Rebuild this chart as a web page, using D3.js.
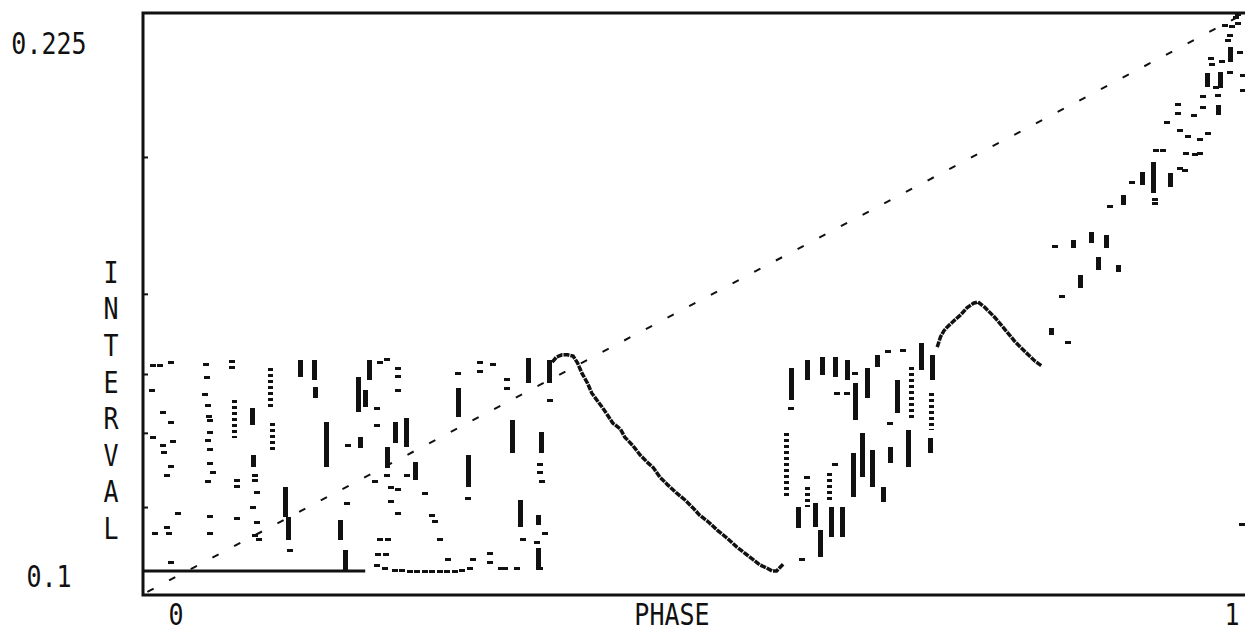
<!DOCTYPE html>
<html>
<head>
<meta charset="utf-8">
<script src="https://cdn.jsdelivr.net/npm/d3@7"></script>
<style>
  body { margin: 0; background: #fff; }
  svg { display: block; }
  .lbl { font-family: "DejaVu Sans Mono", monospace; font-size: 25px; fill: #111; }
</style>
</head>
<body>
<div id="chart"></div>
<script>
  var svgWidth = 1245;
  var svgHeight = 632;

  // frame of the plot area (right side is open, runs off the picture)
  var frame = { left: 143, top: 13, right: 1245, bottom: 595 };

  // axis ticks and labels
  var phaseTicks = [0, 1];
  var phaseTickLabels = ["0", "1"];
  var intervalTicks = [0.1, 0.225];
  var intervalTickLabels = ["0.1", "0.225"];
  var edgeTicks = [0.1971, 0.1650, 0.1462, 0.1324, 0.1150];
  var xTitle = "PHASE";
  var yTitle = "INTERVAL";

  // dashed identity-like diagonal
  var diagPhase = [0.004, 0.995];
  var diagInterval = [0.0951, 0.2299];

  // solid run along the minimum interval
  var floorRun = [[0, 0.1], [0.202, 0.1]];

  // first smooth branch (phase, interval)
  var curveA = [
    [0.372, 0.1490], [0.376, 0.1502], [0.381, 0.1507], [0.386, 0.1507], [0.391, 0.1504],
    [0.395, 0.1488], [0.399, 0.1464], [0.404, 0.1441], [0.408, 0.1417], [0.414, 0.1396],
    [0.418, 0.1382], [0.423, 0.1363], [0.427, 0.1347], [0.434, 0.1333], [0.438, 0.1314],
    [0.445, 0.1295], [0.452, 0.1272], [0.458, 0.1256], [0.464, 0.1242], [0.470, 0.1220],
    [0.477, 0.1202], [0.485, 0.1183], [0.493, 0.1166], [0.500, 0.1148], [0.506, 0.1131],
    [0.514, 0.1115], [0.522, 0.1096], [0.531, 0.1077], [0.540, 0.1056], [0.547, 0.1042],
    [0.555, 0.1026], [0.561, 0.1014], [0.567, 0.1007], [0.572, 0.1000], [0.576, 0.1000],
    [0.582, 0.1016]
  ];

  // second smooth branch
  var curveB = [
    [0.722, 0.1525], [0.725, 0.1549], [0.728, 0.1563], [0.731, 0.1572], [0.736, 0.1584],
    [0.743, 0.1600], [0.749, 0.1617], [0.755, 0.1628], [0.759, 0.1631], [0.765, 0.1619],
    [0.775, 0.1593], [0.784, 0.1565], [0.793, 0.1537], [0.802, 0.1514], [0.811, 0.1492],
    [0.817, 0.1481]
  ];

  // solid vertical runs: [phase, upper interval, lower interval]
  var streaks = [
    [0.143, 0.1495, 0.1455], [0.155, 0.1495, 0.1448], [0.156, 0.1431, 0.1406],
    [0.099, 0.1382, 0.1342], [0.100, 0.1272, 0.1244], [0.129, 0.1197, 0.1127],
    [0.132, 0.1127, 0.1073], [0.166, 0.1349, 0.1244], [0.179, 0.1120, 0.1073],
    [0.184, 0.1049, 0.1002], [0.205, 0.1495, 0.1448], [0.195, 0.1455, 0.1373],
    [0.202, 0.1424, 0.1385], [0.229, 0.1349, 0.1300], [0.239, 0.1359, 0.1291],
    [0.197, 0.1314, 0.1288], [0.222, 0.1291, 0.1242], [0.247, 0.1256, 0.1213],
    [0.286, 0.1429, 0.1361], [0.295, 0.1272, 0.1197], [0.335, 0.1354, 0.1277],
    [0.343, 0.1166, 0.1103], [0.359, 0.1054, 0.1002], [0.350, 0.1499, 0.1441],
    [0.369, 0.1495, 0.1441], [0.362, 0.1326, 0.1277], [0.359, 0.1131, 0.1108],
    [0.589, 0.1476, 0.1401], [0.595, 0.1150, 0.1101], [0.604, 0.1495, 0.1448],
    [0.611, 0.1159, 0.1103], [0.615, 0.1096, 0.1033], [0.617, 0.1502, 0.1460],
    [0.625, 0.1150, 0.1080], [0.629, 0.1502, 0.1455], [0.635, 0.1150, 0.1080],
    [0.640, 0.1495, 0.1448], [0.647, 0.1441, 0.1354], [0.645, 0.1277, 0.1174],
    [0.654, 0.1324, 0.1220], [0.658, 0.1476, 0.1406], [0.663, 0.1284, 0.1197],
    [0.667, 0.1507, 0.1478], [0.673, 0.1197, 0.1162], [0.679, 0.1291, 0.1253],
    [0.685, 0.1448, 0.1371], [0.695, 0.1331, 0.1244], [0.707, 0.1535, 0.1471],
    [0.715, 0.1312, 0.1277], [0.717, 0.1507, 0.1448],
    [0.825, 0.1570, 0.1553], [0.852, 0.1694, 0.1664], [0.868, 0.1736, 0.1706],
    [0.886, 0.1718, 0.1701], [0.845, 0.1776, 0.1757], [0.862, 0.1795, 0.1769],
    [0.875, 0.1788, 0.1757], [0.891, 0.1882, 0.1858], [0.908, 0.1936, 0.1905],
    [0.918, 0.1959, 0.1886], [0.934, 0.1933, 0.1900], [0.977, 0.2093, 0.2069],
    [0.967, 0.2168, 0.2135], [0.979, 0.2170, 0.2133], [0.988, 0.2229, 0.2194]
  ];

  // broken vertical runs (stacked dots)
  var dashColumns = [
    [0.116, 0.1476, 0.1378], [0.083, 0.1401, 0.1312], [0.118, 0.1347, 0.1284],
    [0.585, 0.1324, 0.1174], [0.604, 0.1197, 0.1150], [0.624, 0.1230, 0.1166],
    [0.699, 0.1478, 0.1354], [0.717, 0.1417, 0.1331]
  ];

  // single points
  var dots = [
    [0.009, 0.1481], [0.015, 0.1483], [0.025, 0.1490], [0.057, 0.1485], [0.081, 0.1492],
    [0.081, 0.1478], [0.008, 0.1424], [0.018, 0.1371], [0.025, 0.1349], [0.058, 0.1453],
    [0.056, 0.1413], [0.059, 0.1389], [0.060, 0.1363], [0.061, 0.1354], [0.061, 0.1324],
    [0.059, 0.1307], [0.061, 0.1284], [0.061, 0.1253], [0.064, 0.1232], [0.059, 0.1209],
    [0.009, 0.1314], [0.018, 0.1295], [0.019, 0.1279], [0.027, 0.1303], [0.025, 0.1244],
    [0.022, 0.1225], [0.032, 0.1136], [0.011, 0.1089], [0.022, 0.1101], [0.024, 0.1089],
    [0.025, 0.1019], [0.061, 0.1127], [0.061, 0.1089], [0.085, 0.1124], [0.085, 0.1213],
    [0.085, 0.1197], [0.102, 0.1225], [0.102, 0.1213], [0.104, 0.1185], [0.100, 0.1148],
    [0.104, 0.1113], [0.102, 0.1084], [0.105, 0.1073], [0.134, 0.1049], [0.186, 0.1295],
    [0.215, 0.1490], [0.222, 0.1495], [0.232, 0.1476], [0.232, 0.1455], [0.232, 0.1424],
    [0.213, 0.1382], [0.213, 0.1342], [0.222, 0.1225], [0.240, 0.1225], [0.211, 0.1209],
    [0.225, 0.1195], [0.232, 0.1192], [0.256, 0.1181], [0.225, 0.1162], [0.232, 0.1136],
    [0.263, 0.1131], [0.265, 0.1115], [0.270, 0.1073], [0.277, 0.1026], [0.185, 0.1159],
    [0.215, 0.1073], [0.223, 0.1073], [0.214, 0.1038], [0.221, 0.1038], [0.213, 0.1014],
    [0.300, 0.1026], [0.315, 0.1042], [0.315, 0.1019], [0.286, 0.1464], [0.306, 0.1488],
    [0.306, 0.1467], [0.318, 0.1485], [0.331, 0.1448], [0.331, 0.1429], [0.295, 0.1171],
    [0.345, 0.1073], [0.365, 0.1089], [0.358, 0.1068], [0.370, 0.1401], [0.361, 0.1249],
    [0.361, 0.1230], [0.363, 0.1209],
    [0.220, 0.1005], [0.229, 0.1002], [0.235, 0.1002], [0.243, 0.0998], [0.249, 0.0998],
    [0.256, 0.0998], [0.263, 0.0998], [0.270, 0.0998], [0.276, 0.1000], [0.284, 0.1000],
    [0.290, 0.1002], [0.297, 0.1007], [0.325, 0.1005], [0.329, 0.1005], [0.340, 0.1005],
    [0.361, 0.1007],
    [0.589, 0.1382], [0.599, 0.1026], [0.604, 0.1220], [0.629, 0.1249], [0.631, 0.1417],
    [0.640, 0.1417], [0.647, 0.1464], [0.677, 0.1514], [0.679, 0.1347], [0.691, 0.1518],
    [0.841, 0.1537], [0.835, 0.1643], [0.829, 0.1760], [0.879, 0.1854], [0.899, 0.1912],
    [0.920, 0.1872], [0.920, 0.1861], [0.921, 0.1987], [0.927, 0.1987], [0.943, 0.1945],
    [0.947, 0.1940], [0.948, 0.1980], [0.956, 0.1976], [0.961, 0.1980], [0.943, 0.2034],
    [0.950, 0.2018], [0.961, 0.2011], [0.968, 0.2027], [0.931, 0.2051], [0.941, 0.2093],
    [0.941, 0.2074], [0.955, 0.2069], [0.964, 0.2086], [0.975, 0.2133], [0.964, 0.2112],
    [0.977, 0.2116], [0.971, 0.2203], [0.972, 0.2189], [0.981, 0.2194], [0.988, 0.2168],
    [0.997, 0.2215], [1.000, 0.2163], [1.000, 0.2128], [0.988, 0.2257], [0.986, 0.2245],
    [0.984, 0.2280], [0.990, 0.2278], [0.995, 0.2283], [0.994, 0.2297], [0.995, 0.2304],
    [0.999, 0.1108]
  ];

  var svg = d3.select("#chart")
    .append("svg")
    .attr("width", svgWidth)
    .attr("height", svgHeight);

  // Create scaling functions
  var xScale = d3.scaleLinear()
    .domain([0, 1])
    .range([143, 1243]);

  var yScale = d3.scaleLinear()
    .domain([0.1, 0.225])
    .range([571, 38]);

  var ink = "#111";

  // frame, open on the right
  svg.append("path")
    .attr("d", `M${frame.right},${frame.top}H${frame.left}V${frame.bottom}H${frame.right}`)
    .attr("fill", "none")
    .attr("stroke", ink)
    .attr("stroke-width", 3);

  // small inward ticks on the left edge
  var edgeAxis = svg.append("g")
    .attr("transform", `translate(${frame.left}, 0)`)
    .call(d3.axisRight(yScale).tickValues(edgeTicks).tickSize(5).tickFormat(""));
  edgeAxis.select(".domain").remove();
  edgeAxis.selectAll("line").attr("stroke", ink).attr("stroke-width", 2);

  var line = d3.line()
    .x(d => xScale(d[0]))
    .y(d => yScale(d[1]));

  // dashed diagonal
  svg.append("path")
    .datum(d3.zip(diagPhase, diagInterval))
    .attr("d", line)
    .attr("fill", "none")
    .attr("stroke", ink)
    .attr("stroke-width", 2)
    .attr("stroke-dasharray", "7,17.5");

  // floor run
  svg.append("path")
    .datum(floorRun)
    .attr("d", line)
    .attr("fill", "none")
    .attr("stroke", ink)
    .attr("stroke-width", 3);

  // smooth branches
  [curveA, curveB].forEach(function(c) {
    svg.append("path")
      .datum(c)
      .attr("d", line)
      .attr("fill", "none")
      .attr("stroke", ink)
      .attr("stroke-width", 3.5)
      .attr("stroke-dasharray", "6,1");
  });

  var marks = svg.append("g").attr("shape-rendering", "crispEdges");

  marks.selectAll("rect.streak")
    .data(streaks)
    .enter()
    .append("rect")
    .attr("class", "streak")
    .attr("x", d => xScale(d[0]) - 2)
    .attr("y", d => yScale(d[1]))
    .attr("width", 5)
    .attr("height", d => yScale(d[2]) - yScale(d[1]))
    .attr("fill", ink);

  marks.selectAll("line.dashcol")
    .data(dashColumns)
    .enter()
    .append("line")
    .attr("class", "dashcol")
    .attr("x1", d => xScale(d[0]))
    .attr("x2", d => xScale(d[0]))
    .attr("y1", d => yScale(d[1]))
    .attr("y2", d => yScale(d[2]))
    .attr("stroke", ink)
    .attr("stroke-width", 5)
    .attr("stroke-dasharray", "3,3");

  marks.selectAll("rect.dot")
    .data(dots)
    .enter()
    .append("rect")
    .attr("class", "dot")
    .attr("x", d => xScale(d[0]) - 3)
    .attr("y", d => yScale(d[1]) - 1.5)
    .attr("width", 6)
    .attr("height", 3)
    .attr("fill", ink);

  // tick labels, tall narrow pixel-style digits
  function tallText(x, y, s) {
    svg.append("text")
      .attr("class", "lbl")
      .attr("transform", `translate(${x},${y}) scale(1,1.2)`)
      .attr("text-anchor", "middle")
      .attr("dy", "0.36em")
      .text(s);
  }

  intervalTicks.forEach(function(t, i) {
    tallText(49, yScale(t) + 5, intervalTickLabels[i]);
  });

  tallText(xScale(phaseTicks[0]) + 33, 614, phaseTickLabels[0]);
  tallText(xScale(phaseTicks[1]) - 11, 614, phaseTickLabels[1]);

  tallText(672, 614, xTitle);

  // vertical title, one letter per row
  yTitle.split("").forEach(function(ch, i) {
    tallText(111, 272 + i * 36.6, ch);
  });
</script>
</body>
</html>
